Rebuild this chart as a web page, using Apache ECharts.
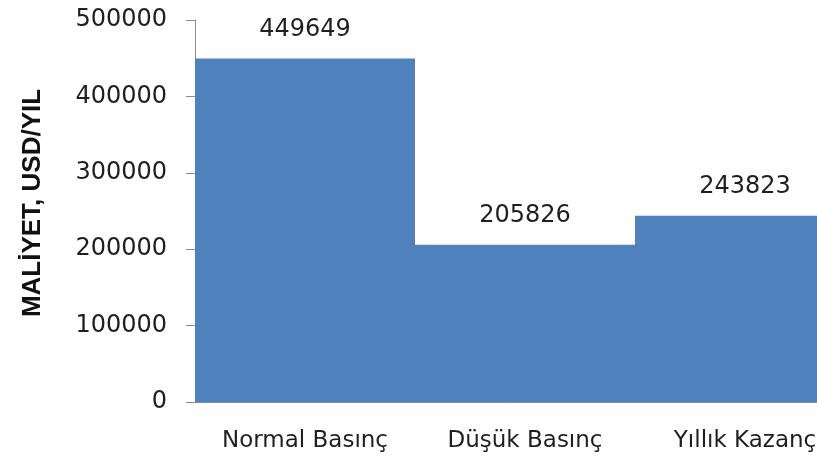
<!DOCTYPE html>
<html>
<head>
<meta charset="utf-8">
<script src="https://cdn.jsdelivr.net/npm/echarts@6/dist/echarts.min.js"></script>
<style>
  html, body { margin: 0; padding: 0; background: #fff; }
  #chart { width: 817px; height: 458px; }
</style>
</head>
<body>
<div id="chart"></div>
<script>
// Annual cost by operating mode
const categories = ['Normal Basınç', 'Düşük Basınç', 'Yıllık Kazanç'];
const costValues = [449649, 205826, 243823];
const yTickMax = 500000;
const yTickStep = 100000;

const chart = echarts.init(document.getElementById('chart'), null, { renderer: 'canvas' });
const font = '"DejaVu Sans", sans-serif';

chart.setOption({
  animation: false,
  backgroundColor: '#ffffff',
  grid: {
    left: 195, width: 660, top: 20, height: 382,
    containLabel: false, outerBoundsMode: 'none'
  },
  xAxis: {
    type: 'category',
    data: categories,
    axisLine: { show: true, lineStyle: { color: '#8c8c8c', width: 1 } },
    axisTick: { show: false },
    axisLabel: { color: '#1f1f1f', fontFamily: font, fontSize: 23, margin: 28, interval: 0, hideOverlap: false }
  },
  yAxis: {
    type: 'value',
    min: 0,
    max: yTickMax,
    interval: yTickStep,
    name: 'MALİYET, USD/YIL',
    nameLocation: 'middle',
    nameGap: 149,
    nameTextStyle: {
      color: '#111', fontFamily: '"Liberation Sans", Arial, sans-serif',
      fontSize: 26, fontWeight: 'bold', padding: [0, 0, 0, 16]
    },
    axisLine: { show: true, lineStyle: { color: '#8c8c8c', width: 1 } },
    axisTick: { show: true, inside: false, length: 9, lineStyle: { color: '#8c8c8c' } },
    splitLine: { show: false },
    axisLabel: {
      color: '#1f1f1f', fontFamily: font, fontSize: 24, margin: 28,
      formatter: (v) => String(v)
    }
  },
  series: [{
    type: 'bar',
    data: costValues,
    barCategoryGap: '0%',
    itemStyle: { color: '#4f81bd' },
    label: {
      show: true,
      position: 'top',
      distance: 17,
      color: '#1f1f1f',
      fontFamily: font,
      fontSize: 24
    }
  }]
});
</script>
</body>
</html>
